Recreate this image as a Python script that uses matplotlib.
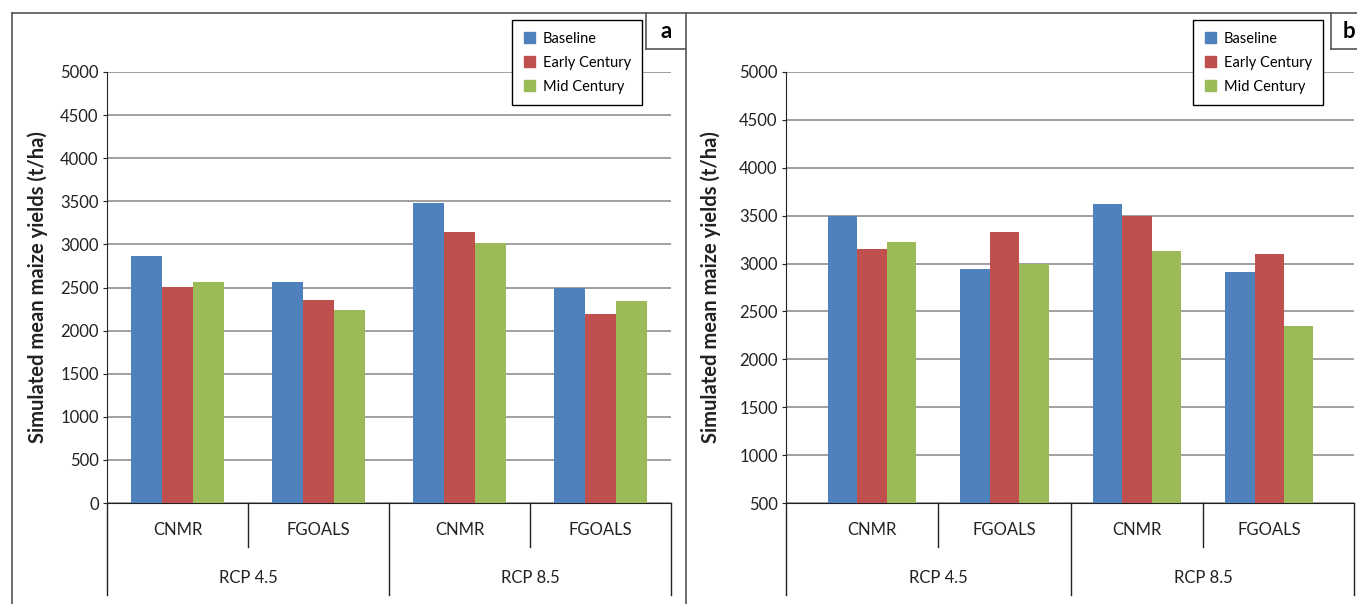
import numpy as np
import matplotlib
matplotlib.use("Agg")
import matplotlib.pyplot as plt
from matplotlib.lines import Line2D
from matplotlib.patches import Patch
import matplotlib.transforms as mtransforms

plt.rcParams['font.family'] = ['Lato', 'DejaVu Sans']

models = ['CNMR', 'FGOALS', 'CNMR', 'FGOALS']
scenarios = ['RCP 4.5', 'RCP 8.5']
series = ['Baseline', 'Early Century', 'Mid Century']
colors = ['#4F81BD', '#C0504D', '#9BBB59']

# panel a
a_baseline = [2860, 2560, 3480, 2500]
a_early = [2510, 2350, 3140, 2190]
a_mid = [2560, 2240, 3020, 2340]

# panel b
b_baseline = [3500, 2940, 3620, 2910]
b_early = [3150, 3330, 3500, 3100]
b_mid = [3220, 3000, 3130, 2350]

W, H = 1357, 604
fig = plt.figure(figsize=(W / 100, H / 100), dpi=100)


def fx(px):
    return px / W


def fy(py):
    return 1 - py / H


def fig_line(x0, y0, x1, y1, color='#555555', lw=1.2):
    fig.add_artist(Line2D([fx(x0), fx(x1)], [fy(y0), fy(y1)], color=color,
                          lw=lw, transform=fig.transFigure))


def draw_panel(rect, vals, ylim, xlim, letter, letter_x, legend_x, ylabel_x):
    l, t, r, b = rect
    ax = fig.add_axes([fx(l), fy(b), fx(r) - fx(l), fy(t) - fy(b)])
    x = np.arange(len(models))
    w = 0.222
    for i, (v, c, s) in enumerate(zip(vals, colors, series)):
        ax.bar(x + (i - 1) * w, np.array(v) - ylim[0], bottom=ylim[0], width=w,
               color=c, label=s, zorder=3)
    ax.set_xlim(*xlim)
    ax.set_ylim(*ylim)
    ax.set_yticks(np.arange(ylim[0], ylim[1] + 1, 500))
    ax.yaxis.grid(True, color='#A0A0A0', lw=1.4, zorder=0)
    ax.set_axisbelow(True)
    for side in ['top', 'right']:
        ax.spines[side].set_visible(False)
    ax.spines['left'].set_color('#222222')
    ax.spines['bottom'].set_color('#222222')
    ax.tick_params(axis='y', length=3, pad=3, labelsize=12, color='#222222',
                   labelcolor='#222222')
    ax.set_xticks([])
    ax.set_ylabel('Simulated mean maize yields (t/ha)', fontsize=14.5,
                  fontweight='bold', color='#222222')
    ax.yaxis.set_label_coords(ylabel_x, 0.5)

    trans = mtransforms.blended_transform_factory(ax.transData, ax.transAxes)
    h = b - t
    d1 = 44 / h
    d2 = 92 / h
    # category separators
    for sx in [0.5, 2.5]:
        ax.add_line(Line2D([sx, sx], [0, -d1], color='#222222', lw=1.0,
                           transform=trans, clip_on=False))
    for sx in [xlim[0], 1.5, xlim[1]]:
        ax.add_line(Line2D([sx, sx], [0, -d2], color='#222222', lw=1.0,
                           transform=trans, clip_on=False))
    for xi, m in zip(x, models):
        ax.text(xi, -27 / h, m, transform=trans, ha='center', va='center',
                fontsize=12, color='#222222')
    for xi, s in zip([0.5, 2.5], scenarios):
        ax.text(xi, -75 / h, s, transform=trans, ha='center', va='center',
                fontsize=12, color='#222222')

    fig.legend(handles=[Patch(color=c, label=s) for c, s in zip(colors, series)],
               loc='upper left', bbox_to_anchor=(fx(legend_x), fy(20)),
               bbox_transform=fig.transFigure, borderaxespad=0, fontsize=10.5,
               frameon=True, fancybox=False, edgecolor='black', framealpha=1,
               handlelength=0.8, handleheight=0.8, handletextpad=0.5,
               labelspacing=0.68, borderpad=0.8)
    fig.text(fx(letter_x), fy(31), letter, ha='center', va='center',
             fontsize=16, fontweight='bold')
    return ax


draw_panel((107, 72, 671, 503), [a_baseline, a_early, a_mid], (0, 5000),
           (-0.5, 3.5), 'a', 666, 512, -0.105)
draw_panel((786, 72, 1354, 503), [b_baseline, b_early, b_mid], (500, 5000),
           (-0.65, 3.64), 'b', 1349, 1193, -0.115)

# outer frames and letter boxes
fig_line(12, 13, W, 13)
fig_line(12, 13, 12, H)
fig_line(686, 13, 686, H)
fig_line(646, 13, 646, 49)
fig_line(646, 49, 686, 49)
fig_line(1331, 13, 1331, 49)
fig_line(1331, 49, W, 49)

fig.savefig('out.png', dpi=100)
